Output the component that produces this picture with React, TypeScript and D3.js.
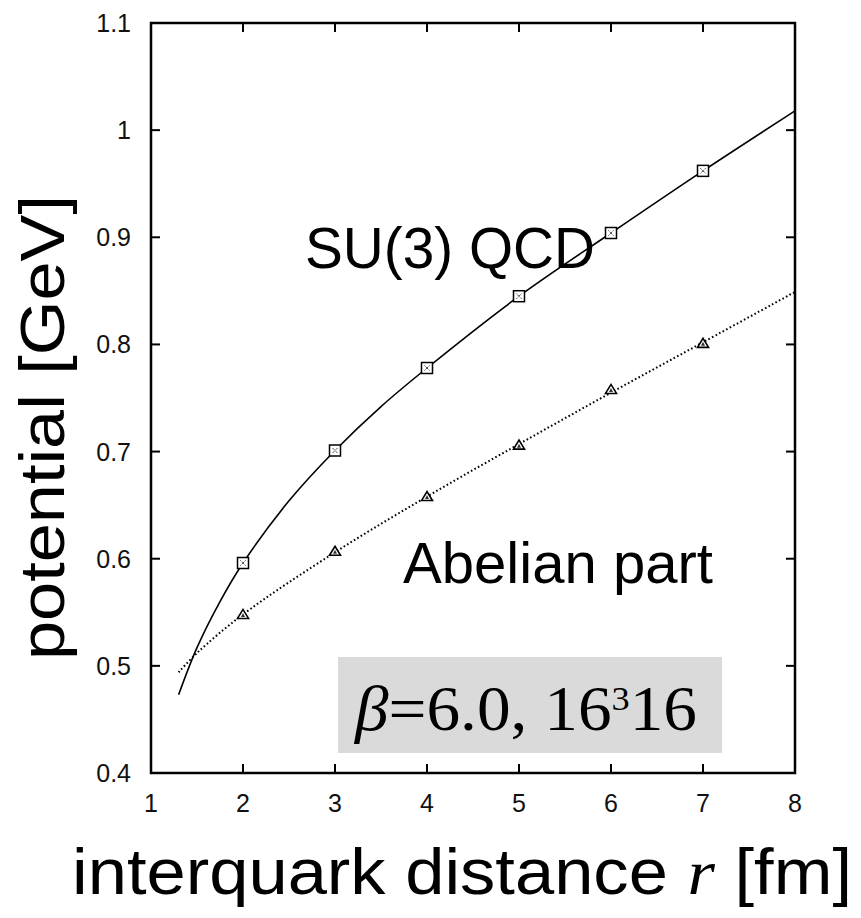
import React from 'react'
import { scaleLinear, line, curveCatmullRom } from 'd3'

// measured data points (r in fm, V in GeV)
const sampleR = [2, 3, 4, 5, 6, 7]
const su3V = [0.596, 0.701, 0.778, 0.845, 0.904, 0.962]
const abelianV = [0.548, 0.607, 0.658, 0.706, 0.758, 0.801]

// fit curves
const su3FitR = [1.3, 1.5, 1.75, 2, 2.5, 3, 3.5, 4, 5, 6, 7, 8]
const su3FitV = [0.473, 0.517, 0.56, 0.596, 0.654, 0.701, 0.742, 0.778, 0.845, 0.904, 0.962, 1.018]
const abelianFitR = [1.3, 1.5, 2, 3, 4, 5, 6, 7, 8]
const abelianFitV = [0.494, 0.512, 0.548, 0.606, 0.658, 0.707, 0.755, 0.802, 0.849]

const xTicks = [1, 2, 3, 4, 5, 6, 7, 8]
const yTicks = [0.4, 0.5, 0.6, 0.7, 0.8, 0.9, 1, 1.1]

const W = 861
const H = 918
const M = { top: 23, left: 151, right: 66, bottom: 145 }

const sans = 'Liberation Sans, Arial, Helvetica, sans-serif'
const serif = 'Liberation Serif, Times New Roman, serif'

export default function App() {
  const x = scaleLinear().domain([1, 8]).range([M.left, W - M.right])
  const y = scaleLinear().domain([0.4, 1.1]).range([H - M.bottom, M.top])
  const tick = 9

  const mk = (rs: number[], vs: number[]) =>
    line<number>()
      .x((_, i) => x(rs[i]))
      .y((v) => y(v))
      .curve(curveCatmullRom)(vs) || ''

  const x0 = x(1)
  const x1 = x(8)
  const y0 = y(0.4)
  const y1 = y(1.1)

  return (
    <svg width={W} height={H} style={{ position: 'absolute', left: 0, top: 0, background: '#fff' }}>
      {/* label box */}
      <rect x={338} y={657} width={384} height={96} fill="#dadada" />
      <text x={355} y={730} fontFamily={serif} fontSize={63} fill="#000" textLength={342} lengthAdjust="spacingAndGlyphs">
        <tspan fontStyle="italic">β</tspan>
        <tspan>=6.0, 16</tspan>
        <tspan fontSize={34} dy={-20}>3</tspan>
        <tspan dy={20}>16</tspan>
      </text>

      {/* curves */}
      <path d={mk(su3FitR, su3FitV)} fill="none" stroke="#000" strokeWidth={1.6} />
      <path d={mk(abelianFitR, abelianFitV)} fill="none" stroke="#000" strokeWidth={2} strokeDasharray="1.6 2.4" />

      {/* markers */}
      {sampleR.map((r, i) => (
        <g key={'s' + r} transform={`translate(${x(r)},${y(su3V[i])})`}>
          <rect x={-5.5} y={-5.5} width={11} height={11} fill="#fff" stroke="#000" strokeWidth={1.5} />
          <line x1={-2.5} x2={2.5} y1={-2.5} y2={2.5} stroke="#000" strokeWidth={1} strokeDasharray="1 1" />
          <line x1={-2.5} x2={2.5} y1={2.5} y2={-2.5} stroke="#000" strokeWidth={1} strokeDasharray="1 1" />
        </g>
      ))}
      {sampleR.map((r, i) => (
        <g key={'t' + r} transform={`translate(${x(r)},${y(abelianV[i])})`}>
          <path d="M-5.5,4 L0,-5 L5.5,4 Z" fill="#fff" stroke="#000" strokeWidth={1.6} />
          <path d="M-2,2.5 L0,-1.5 L2,2.5 Z" fill="#333" />
        </g>
      ))}

      {/* frame and ticks */}
      <rect x={x0} y={y1} width={x1 - x0} height={y0 - y1} fill="none" stroke="#000" strokeWidth={2.5} />
      {xTicks.slice(1, -1).map((t) => (
        <g key={'xt' + t}>
          <line x1={x(t)} x2={x(t)} y1={y0} y2={y0 - tick} stroke="#000" strokeWidth={2} />
          <line x1={x(t)} x2={x(t)} y1={y1} y2={y1 + tick} stroke="#000" strokeWidth={2} />
        </g>
      ))}
      {yTicks.slice(1, -1).map((t) => (
        <g key={'yt' + t}>
          <line x1={x0} x2={x0 + tick} y1={y(t)} y2={y(t)} stroke="#000" strokeWidth={2} />
          <line x1={x1} x2={x1 - tick} y1={y(t)} y2={y(t)} stroke="#000" strokeWidth={2} />
        </g>
      ))}
      {xTicks.map((t) => (
        <text key={'xl' + t} x={x(t)} y={y0 + 39} textAnchor="middle" fontFamily={sans} fontSize={25} fill="#111">
          {t}
        </text>
      ))}
      {yTicks.map((t) => (
        <text key={'yl' + t} x={x0 - 20} y={y(t) + 9} textAnchor="end" fontFamily={sans} fontSize={25} fill="#111">
          {t === 1 ? '1' : t.toFixed(1)}
        </text>
      ))}

      {/* annotations */}
      <text x={305} y={268} fontFamily={sans} fontSize={57} fill="#000" textLength={290} lengthAdjust="spacingAndGlyphs">
        SU(3) QCD
      </text>
      <text x={403} y={583} fontFamily={sans} fontSize={58} fill="#000" textLength={310} lengthAdjust="spacingAndGlyphs">
        Abelian part
      </text>

      {/* axis titles */}
      <text
        transform={`translate(64,${(195 + 660) / 2}) rotate(-90)`}
        textAnchor="middle"
        fontFamily={sans}
        fontSize={63}
        fill="#000"
        textLength={465}
        lengthAdjust="spacingAndGlyphs"
      >
        potential [GeV]
      </text>
      <text x={72} y={894} fontFamily={sans} fontSize={64} fill="#000" textLength={780} lengthAdjust="spacingAndGlyphs">
        interquark distance <tspan fontFamily={serif} fontStyle="italic">r</tspan> [fm]
      </text>
    </svg>
  )
}
